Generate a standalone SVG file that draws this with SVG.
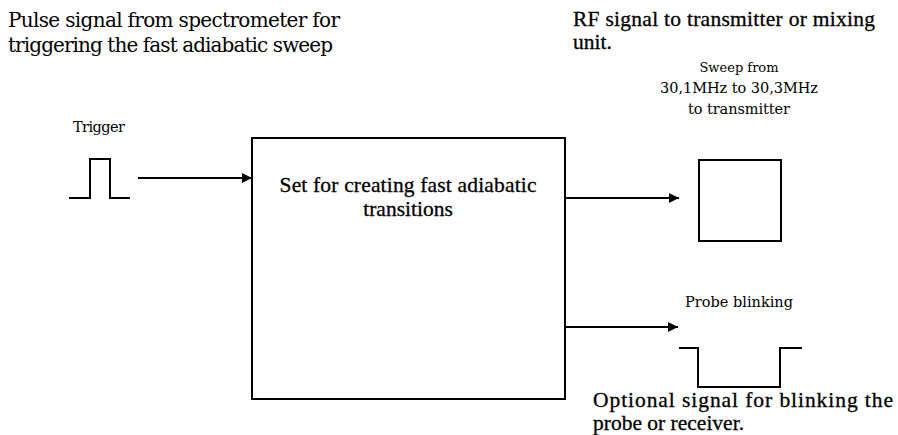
<svg xmlns="http://www.w3.org/2000/svg" width="898" height="435" viewBox="0 0 898 435">
  <style>
    text { fill: #000; }
    .wide { font-family: 'DejaVu Serif', 'Liberation Serif', serif; }
    .tnr { font-family: 'Liberation Serif', 'Times New Roman', serif; stroke: #000; stroke-width: 0.3; }
    .big { font-size: 20px; }
    .mid { font-size: 21.5px; }
    .sm { font-size: 14.5px; }
    .line { stroke: #000; stroke-width: 2; fill: none; }
    .box { stroke: #000; stroke-width: 2; fill: #fff; }
  </style>
  <defs>
    <marker id="arrow" viewBox="0 0 10 10" refX="10" refY="5" markerWidth="10" markerHeight="10" markerUnits="userSpaceOnUse" orient="auto">
      <path d="M0,0 L10,5 L0,10 z" fill="#000"/>
    </marker>
  </defs>

  <rect width="898" height="435" fill="#fff"/>

  <!-- headings -->
  <text class="wide big" x="8" y="27" textLength="332">Pulse signal from spectrometer for</text>
  <text class="wide big" x="8" y="52" textLength="325">triggering the fast adiabatic sweep</text>
  <text class="tnr mid" x="573" y="26" textLength="302">RF signal to transmitter or mixing</text>
  <text class="tnr mid" x="573" y="49">unit.</text>

  <!-- trigger pulse -->
  <g id="trigger">
    <text class="wide sm" x="73" y="132" textLength="52">Trigger</text>
    <polyline class="line" points="69,198 90,198 90,159 110,159 110,198 130,198"/>
  </g>

  <!-- main unit -->
  <g id="sweep-set">
    <rect class="box" x="252" y="138" width="313" height="261"/>
    <text class="tnr mid" x="408" y="192" text-anchor="middle" textLength="257">Set for creating fast adiabatic</text>
    <text class="tnr mid" x="408" y="216" text-anchor="middle">transitions</text>
  </g>

  <!-- RF output -->
  <g id="rf-output">
    <text class="wide" font-size="13" x="739" y="72" text-anchor="middle">Sweep from</text>
    <text class="wide sm" x="739" y="93" text-anchor="middle" textLength="158">30,1MHz to 30,3MHz</text>
    <text class="wide sm" x="739" y="114" text-anchor="middle" textLength="102">to transmitter</text>
    <rect class="box" x="699" y="160" width="82" height="81"/>
  </g>

  <!-- blanking output -->
  <g id="probe-blinking">
    <text class="wide sm" x="685" y="307" textLength="108">Probe blinking</text>
    <polyline class="line" points="679,348 698,348 698,387 780,387 780,348 802,348"/>
    <text class="tnr mid" x="593" y="407" textLength="300" lengthAdjust="spacing">Optional signal for blinking the</text>
    <text class="tnr mid" x="593" y="430">probe or receiver.</text>
  </g>

  <!-- connectors -->
  <g id="connectors">
    <line class="line" x1="138" y1="178" x2="252" y2="178" marker-end="url(#arrow)"/>
    <line class="line" x1="565" y1="198" x2="679" y2="198" marker-end="url(#arrow)"/>
    <line class="line" x1="565" y1="327" x2="678" y2="327" marker-end="url(#arrow)"/>
  </g>
</svg>
